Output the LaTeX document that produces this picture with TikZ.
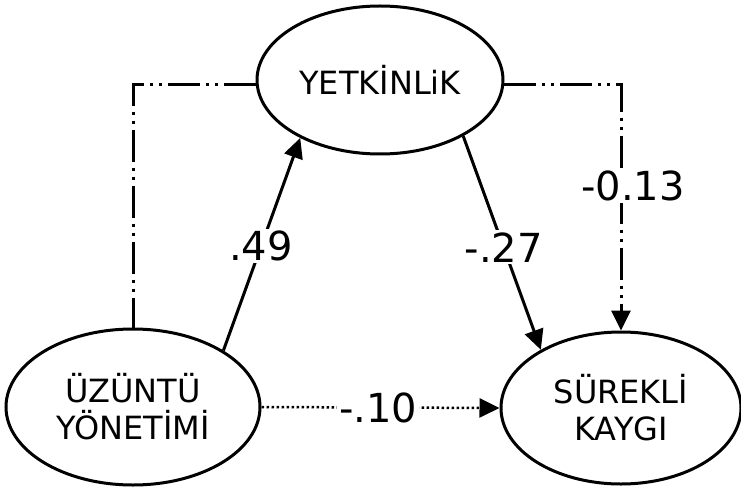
\documentclass[tikz,border=0pt]{standalone}
\usepackage{fontspec}
\setmainfont{DejaVu Sans}
\usetikzlibrary{shapes.geometric,arrows.meta}
\begin{document}
\begin{tikzpicture}[x=1pt,y=-1pt,
  ell/.style={draw, ellipse, line width=3pt, inner sep=0pt, align=center,
    font=\fontsize{32}{37}\selectfont},
  conn/.style={line width=3pt},
  tip/.style={-{Triangle[length=20pt,width=19pt]}},
  dd/.style={conn, dash pattern=on 32pt off 6pt on 3pt off 6pt on 3pt off 6pt},
  dotl/.style={line width=2.5pt, dash pattern=on 2.5pt off 2.5pt},
  lbl/.style={fill=white, inner sep=2pt, font=\fontsize{40}{44}\selectfont}]
\useasboundingbox (0,0) rectangle (741,489);
\node[ell, minimum width=246pt, minimum height=148pt] (yet) at (380,80) {YETKİNLiK};
\node[ell, minimum width=254pt, minimum height=156pt] (uz) at (133,407) {ÜZÜNTÜ\\YÖNETİMİ};
\node[ell, minimum width=240pt, minimum height=152pt] (sk) at (621,408) {SÜREKLİ\\KAYGI};
\draw[dd] (yet.182) -| (uz.north);
\draw[dd, tip] (yet.358) -| (sk.north);
\node[lbl] (l13) at (633,186) {-0.13};
\draw[conn, tip] (uz.32) -- node[lbl, pos=0.49] (l49) {.49} (yet.216);
\draw[conn, tip] (yet.326) -- node[lbl, pos=0.52] (l27) {-.27} (sk.144);
\draw[dotl, tip] (uz.east) -- node[lbl, pos=0.49] (l10) {-.10} (sk.west);
\end{tikzpicture}
\end{document}
